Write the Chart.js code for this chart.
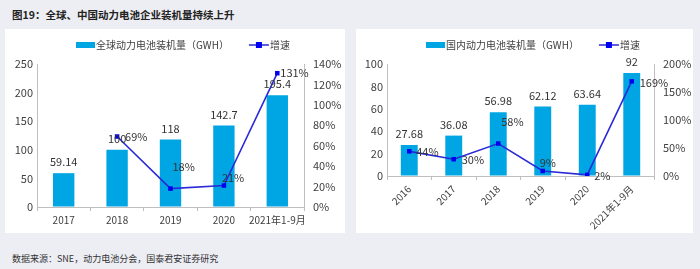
<!DOCTYPE html>
<html><head><meta charset="utf-8">
<script src="https://cdn.jsdelivr.net/npm/chart.js@4"></script>
<style>
html,body{margin:0;padding:0;}
body{width:700px;height:269px;background:#edeef3;position:relative;overflow:hidden;font-family:"Noto Sans CJK SC","Noto Sans",sans-serif;}
#title{position:absolute;left:12px;top:7px;font-size:10.5px;font-weight:bold;color:#222;}
.panel{position:absolute;top:29px;height:204px;background:#fff;}
#p1{left:5px;width:340px;}
#p2{left:356px;width:337px;}
#src{position:absolute;left:12px;top:252px;font-size:9px;color:#333;}
canvas{display:block;}
</style></head>
<body>
<div id="title">图19：全球、中国动力电池企业装机量持续上升</div>
<div class="panel" id="p1"><canvas id="c1" width="340" height="204"></canvas></div>
<div class="panel" id="p2"><canvas id="c2" width="337" height="204"></canvas></div>
<div id="src">数据来源：SNE，动力电池分会，国泰君安证券研究</div>
<script>
// ---- data ----
const globalCats = ['2017','2018','2019','2020','2021年1-9月'];
const globalInstall = [59.14, 100, 118, 142.7, 195.4];
const globalGrowth = [null, 69, 18, 21, 131];
const globalLegend = ['全球动力电池装机量（GWH）','增速'];

const chinaCats = ['2016','2017','2018','2019','2020','2021年1-9月'];
const chinaInstall = [27.68, 36.08, 56.98, 62.12, 63.64, 92];
const chinaGrowth = [44, 30, 58, 9, 2, 169];
const chinaLegend = ['国内动力电池装机量（GWH）','增速'];

// ---- style ----
const FONT = '"Noto Sans CJK SC","Noto Sans",sans-serif';
const BAR = '#00a6e3';
const LINE = '#2a2ad8';
const PT = '#0000f0';
const TXT = '#404040';
const AX = '#bfbfbf';
// label placement per growth point: [dx, dy, align]
const globalPlace = [null, [8,0,'left'], [2,-22,'left'], [-2,-8,'left'], [3,0,'left']];
const chinaPlace = [[7,0,'left'], [8,1,'left'], [3,-22,'left'], [-3,-8,'left'], [7,1,'left'], [8,1,'left']];

const labelPlugin = {
  id: 'lbls',
  afterDatasetsDraw(chart, args, o) {
    const ctx = chart.ctx;
    const bars = chart.getDatasetMeta(0).data;
    const pts = chart.getDatasetMeta(1).data;
    ctx.save();
    ctx.font = '11px ' + FONT;
    ctx.fillStyle = '#333';
    ctx.textBaseline = 'middle';
    ctx.textAlign = 'center';
    bars.forEach((b, i) => ctx.fillText(String(o.install[i]), b.x, b.y - 11));
    pts.forEach((p, i) => {
      const v = o.growth[i];
      if (v == null || !o.place[i]) return;
      const [dx, dy, al] = o.place[i];
      ctx.textAlign = al;
      ctx.fillText(v + '%', p.x + dx, p.y + dy);
    });
    // legend
    ctx.font = '10px ' + FONT;
    ctx.textAlign = 'left';
    const y = o.legendY;
    let x = o.legendX;
    ctx.fillStyle = BAR;
    ctx.fillRect(x, y - 3, 19, 6);
    x += 20;
    ctx.fillStyle = TXT;
    ctx.fillText(o.legend[0], x, y);
    x += ctx.measureText(o.legend[0]).width + 20;
    ctx.strokeStyle = LINE; ctx.lineWidth = 1.5;
    ctx.beginPath(); ctx.moveTo(x, y); ctx.lineTo(x + 20, y); ctx.stroke();
    ctx.fillStyle = PT;
    ctx.fillRect(x + 10 - 3, y - 3, 6, 6);
    ctx.fillStyle = TXT;
    ctx.fillText(o.legend[1], x + 21, y);
    ctx.restore();
  }
};

function makeChart(id, cats, install, growth, legend, place, cfg) {
  return new Chart(document.getElementById(id), {
    type: 'bar',
    data: {
      labels: cats,
      datasets: [
        { type: 'bar', data: install, backgroundColor: BAR, yAxisID: 'y',
          barPercentage: cfg.barPct, categoryPercentage: 1, order: 2 },
        { type: 'line', data: growth, yAxisID: 'y1', borderColor: LINE, borderWidth: 1.6,
          pointStyle: 'rect', pointRadius: 3.2, pointBackgroundColor: PT, pointBorderColor: PT,
          pointBorderWidth: 0, tension: 0, spanGaps: false, order: 1 }
      ]
    },
    options: {
      responsive: false, animation: false, devicePixelRatio: 1,
      layout: { padding: { top: cfg.top, left: 0, right: 0, bottom: 0 } },
      plugins: { legend: { display: false }, tooltip: { enabled: false },
        lbls: { install, growth, legend, place, legendX: cfg.legendX, legendY: cfg.legendY } },
      scales: {
        x: {
          grid: { display: true, drawOnChartArea: false, drawTicks: true, tickLength: 4, color: AX, offset: true },
          border: { display: true, color: AX },
          ticks: { color: TXT, font: { size: 10, family: FONT }, padding: 3,
                   minRotation: cfg.rot, maxRotation: cfg.rot, autoSkip: false },
          afterFit(s) { s.height = cfg.xh; }
        },
        y: {
          position: 'left', min: 0, max: cfg.yMax, ticks: { stepSize: cfg.yStep, color: TXT, font: { size: 11, family: FONT }, padding: 4 },
          grid: { display: true, drawOnChartArea: false, drawTicks: true, tickLength: 0, color: AX },
          border: { display: true, color: AX },
          afterFit(s) { s.width = cfg.yw; }
        },
        y1: {
          position: 'right', min: 0, max: cfg.y1Max,
          ticks: { stepSize: cfg.y1Step, color: TXT, font: { size: 11, family: FONT }, padding: 9, callback: v => v + '%' },
          grid: { display: true, drawOnChartArea: false, drawTicks: true, tickLength: 0, color: AX },
          border: { display: true, color: AX },
          afterFit(s) { s.width = cfg.y1w; }
        }
      }
    },
    plugins: [labelPlugin]
  });
}

makeChart('c1', globalCats, globalInstall, globalGrowth, globalLegend, globalPlace,
  { barPct: 0.4, top: 35, xh: 26, yw: 32, y1w: 41, yMax: 250, yStep: 50, y1Max: 140, y1Step: 20, rot: 0, legendX: 71, legendY: 16 });
makeChart('c2', chinaCats, chinaInstall, chinaGrowth, chinaLegend, chinaPlace,
  { barPct: 0.38, top: 35, xh: 57, yw: 31, y1w: 39, yMax: 100, yStep: 20, y1Max: 200, y1Step: 50, rot: 45, legendX: 70, legendY: 16 });
</script>
</body></html>
